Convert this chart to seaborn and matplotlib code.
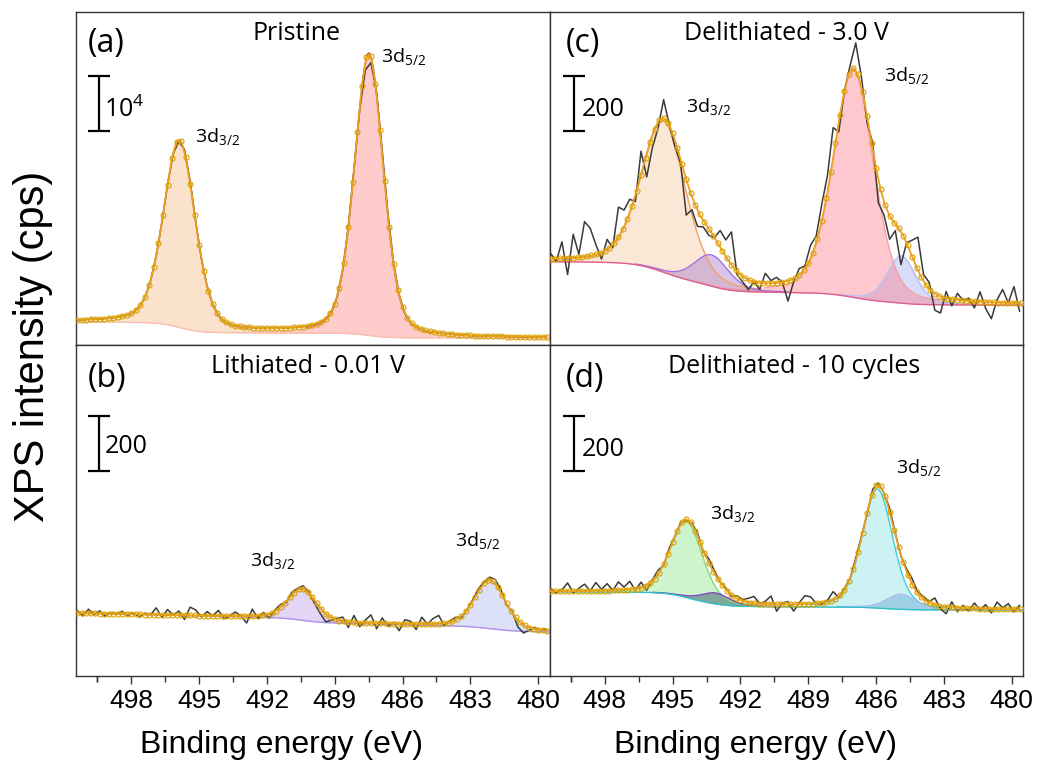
import numpy as np
import seaborn as sns
import matplotlib.pyplot as plt

# ---- data ---------------------------------------------------------------
# raw spectra: deviation of the measured counts from the fit envelope (cps),
# one value per 0.25 eV from 500.4 eV down to 479.65 eV
resid_a = [0, 0, 50, 0, -50, 0, 0, 50, 0, 0, -50, 0, 0, 50, 0, 0, -100,
           -200, -400, 300, 500, 200, 0, 0, 50, 0, -50, 0, 0, 0, 50, 0, 0,
           -50, 0, 0, 0, 50, 0, 0, 0, -50, 0, 0, 0, 0, 0, 100, 200, 300,
           -500, -1500, -1200, 400, 800, 600, 300, 100, 0, 0, 50, 0, -50, 0,
           0, 0, 50, 0, 0, 0, -50, 0, 0, 0, 0, 50, 0, 0, 0, -50, 0, 0, 0, 0]
resid_b = [10, -10, 15, -5, 10, -10, 5, 0, 10, -5, 5, -10, 5, 0,
           25, -10, 20, 0, 15, -15,
           30, 20, -5, 15, 0, 20, -10, 0, 15, 0, -25, 25, -10,
           10, -15, 5, 10, -5, 10, 5, 12,
           5, -10, -20, -30, -10, 5,
           15, -20, 25, -15, 10, 30, -20, 20, -10, 5, -25, 15, 10, -20, 25,
           0, 20, 30, -10,
           5, 10, -5, 0, 5, 10, 5, 10, 15, 10,
           -5, 5, -25, -30, -10, 5, 0, 5]
resid_c = [20, -10, 60, -60, 85, 10, 127, 100, 36, -24,
           36, -12, 109, 60, 48, -24, 85, -85, -48, -24,
           67, 0, -24, -12, -130, -48, -60, -24, -24, 0,
           60, 60, 120, -12, -20, -36, 0, -24, 36, 10,
           20, 0, -73, -12, 24, 10, 48, 24, 60, 60,
           109, -36, 0, 20, 97, 36, -24, 24, -85, -48,
           -85, -24, -120, 0, 60, 120, 24, 24, -60, -60,
           24, -24, 24, 0, 10, -24, 36, -24, -60, 10,
           48, 0, 60, -30]
resid_d = [10, -5, 5, 30, -5, 10, 25, 0, 30, 5, 25, 0, 30, 10, 30, -5, 20,
           -18,
           5, 15, -5, 10, 0, 5, -5,
           5, 10, -5, 15, 10, 0, 5, -5, 10,
           5, 15, 25, 0, 10, 30, -25, 5, 10, -25, 5, 30, 25, 0, -5, 5, 30,
           -5, 5, 0, 10, 5, -5, 10, 5, 0, 15, 5, -5, 10, 20, 5, 10,
           5, 25, -10, -25, 20, -15, 10, -10, 20, -5, 15, -15, 25, 5, 20,
           -10, 15]

# fitted components: centre (eV), height above background (cps), FWHM (eV),
# Shirley step (cps)
centers_a = [495.88, 487.49]
heights_a = [34100, 51300]
fwhm_a = [1.64, 1.50]
steps_a = [2000, 900]
base_a, slope_a = 1270, 0.0

centers_b = [490.45, 482.13]
heights_b = [114, 177]
fwhm_b = [1.5, 1.6]
steps_b = [16, 15]
base_b, slope_b = 160, 1.8

centers_c = [495.41, 493.28, 487.00, 484.88]
heights_c = [550, 114, 825, 172]
fwhm_c = [2.3, 1.8, 2.1, 1.5]
steps_c = [75, 38, 35, 10]
base_c, slope_c = 145, 0.0

centers_d = [494.39, 493.10, 485.94, 484.90]
heights_d = [277, 40, 433, 55]
fwhm_d = [1.67, 1.5, 1.6, 1.5]
steps_d = [40, 15, 8, 3]
base_d, slope_d = 240, 0.0

eta = 0.3
titles = ['Pristine', 'Delithiated - 3.0 V', 'Lithiated - 0.01 V',
          'Delithiated - 10 cycles']
tags = ['(a)', '(c)', '(b)', '(d)']
scale_vals = [1e4, 200, 200, 200]
scale_txt = ['10$^\\mathregular{4}$', '200', '200', '200']
ticks = [498, 495, 492, 489, 486, 483, 480]
tick_labels = ['498', '495', '492', '489', '486', '483', '480']

# ---- styling --------------------------------------------------------------
fills_a = ['#f5c090', '#ff8f8f']
lines_a = ['#f0a868', '#d04040']
fills_b = ['#b898e8', '#a8b4f0']
lines_b = ['#b090e0', '#b8c0f0']
fills_c = ['#f6c49a', '#a070d0', '#8f9ff0', '#ff7080']
lines_c = ['#f4a060', '#a070e0', '#b8c0f0', '#f8a0a8']
fills_d = ['#90e890', '#3f6a70', '#90e4e8', '#70b0d8']
lines_d = ['#80d880', '#8040c0', '#40d0d8', '#b0b8f0']

sns.set_theme(style='white')
plt.rcParams['font.family'] = ['Open Sans', 'DejaVu Sans']
plt.rcParams['text.color'] = 'black'
plt.rcParams['xtick.color'] = 'black'
plt.rcParams['mathtext.fontset'] = 'custom'
plt.rcParams['mathtext.rm'] = 'Open Sans'
plt.rcParams['mathtext.it'] = 'Open Sans:italic'
plt.rcParams['mathtext.bf'] = 'Open Sans:bold'

e_raw = np.linspace(500.4, 479.65, len(resid_a))
e_env = np.linspace(500.4, 479.6, 105)
e_fine = np.linspace(500.45, 479.5, 2096)


def pvoigt(e, c, h, w):
    x = (e - c) / (w / 2)
    return h * ((1 - eta) * np.exp(-np.log(2) * x ** 2) + eta / (1 + x ** 2))


def model(centers, heights, fwhms, steps, base, slope):
    comps = [pvoigt(e_fine, c, h, w) for c, h, w in zip(centers, heights, fwhms)]
    bg = base + slope * (e_fine - e_fine.min())
    for comp, st in zip(comps, steps):
        cum = np.cumsum(comp[::-1])[::-1]
        bg = bg + st * cum / cum[0]
    env = bg + np.sum(comps, axis=0)
    return comps, bg, env


def interp(e, env):
    return np.interp(e, e_fine[::-1], env[::-1])


fig = plt.figure(figsize=(10.38, 7.69), dpi=100)
L, M, R = 76 / 1038, 549.5 / 1038, 1023 / 1038
T, C, B = 1 - 12 / 769, 1 - 345 / 769, 1 - 676 / 769
ax_a = fig.add_axes([L, C, M - L, T - C])
ax_c = fig.add_axes([M, C, R - M, T - C])
ax_b = fig.add_axes([L, B, M - L, C - B])
ax_d = fig.add_axes([M, B, R - M, C - B])

# order of drawing in (c): blue shoulder before the red 3d5/2 peak
order_c = [0, 1, 3, 2]
panels = [
    (ax_a, (centers_a, heights_a, fwhm_a, steps_a, base_a, slope_a), resid_a,
     fills_a, lines_a, '#f8c0b0', 60500, [0.45, 0.45], [0, 1]),
    (ax_c, (centers_c, heights_c, fwhm_c, steps_c, base_c, slope_c), resid_c,
     fills_c, lines_c, '#e0608c', 1211, [0.4, 0.4, 0.35, 0.38], order_c),
    (ax_b, (centers_b, heights_b, fwhm_b, steps_b, base_b, slope_b), resid_b,
     fills_b, lines_b, '#b090e8', 1204, [0.4, 0.4], [0, 1]),
    (ax_d, (centers_d, heights_d, fwhm_d, steps_d, base_d, slope_d), resid_d,
     fills_d, lines_d, '#30c0c8', 1204, [0.45, 0.55, 0.45, 0.5], [0, 1, 2, 3]),
]

peak_pos = [[(495.18, 0.625, '3/2'), (486.95, 0.865, '5/2')],
            [(494.43, 0.715, '3/2'), (485.67, 0.81, '5/2')],
            [(492.75, 0.35, '3/2'), (483.68, 0.41, '5/2')],
            [(493.33, 0.49, '3/2'), (485.1, 0.63, '5/2')]]
title_x = [0.466, 0.5, 0.49, 0.517]
tag_x = [0.025, 0.034, 0.025, 0.034]
bar_x = [499.45, 499.35, 499.45, 499.35]
lab_x = [499.2, 499.03, 499.2, 499.03]

for k, (ax, pars, resid, fills, lines, bgc, ytop, alphas, order) in enumerate(panels):
    comps, bg, env = model(*pars)
    # colours in the style lists follow the drawing order
    for j, idx in enumerate(order):
        comp = comps[idx]
        ax.fill_between(e_fine, bg, bg + comp, color=fills[j], alpha=alphas[j],
                        lw=0, zorder=1)
        # outline only where the component rises above the background
        edge = np.where(comp > 0.02 * comp.max(), bg + comp, np.nan)
        ax.plot(e_fine, edge, color=lines[j], lw=1.0, zorder=2)
    ax.plot(e_fine, bg, color=bgc, lw=1.0, zorder=2)

    raw = interp(e_raw, env) + np.array(resid)
    sns.lineplot(x=e_raw, y=raw, ax=ax, color='#3a3a3a', lw=1.1,
                 sort=False, estimator=None, zorder=3)
    sns.lineplot(x=e_env, y=interp(e_env, env), ax=ax, color='#f0a020', lw=1.3,
                 marker='o', ms=3.6, mfc='none', mec='#d8a200', mew=0.8,
                 sort=False, estimator=None, zorder=4)

    ax.set_xlim(500.45, 479.5)
    ax.set_ylim(0, ytop)
    ax.set_xlabel('')
    ax.set_ylabel('')
    ax.set_yticks([])
    for sp in ax.spines.values():
        sp.set_color('#333333')
        sp.set_linewidth(1.0)

    # scale bar
    row_top = 0.808 if k < 2 else 0.786
    row_lab = [0.706, 0.706, 0.692, 0.683][k]
    sv = scale_vals[k]
    ax.errorbar(bar_x[k], row_top * ytop - sv / 2, yerr=sv / 2, fmt='none',
                ecolor='black', elinewidth=1.6, capsize=8, capthick=1.6)
    ax.text(lab_x[k], row_lab * ytop, scale_txt[k], fontsize=18, ha='left',
            va='center')

    ax.text(title_x[k], 0.934, titles[k], transform=ax.transAxes, fontsize=18,
            ha='center', va='center')
    ax.text(tag_x[k], 0.905 if k < 2 else 0.9, tags[k], transform=ax.transAxes,
            fontsize=23, ha='left', va='center')
    for x, y, sub in peak_pos[k]:
        ax.text(x, y, '3d$_\\mathregular{' + sub + '}$', fontsize=14,
                transform=ax.get_xaxis_transform(), ha='left', va='center')

    if k >= 2:
        ax.set_xticks(ticks, labels=tick_labels, fontfamily='Liberation Sans',
                      fontsize=19)
        ax.set_xticks([t + 1.5 for t in ticks[:-1]] + [499.5], minor=True)
        ax.tick_params(axis='x', which='major', bottom=True, direction='out',
                       length=6, width=1, color='#333333', pad=3)
        ax.tick_params(axis='x', which='minor', bottom=True, direction='out',
                       length=4, width=1, color='#333333')
    else:
        ax.set_xticks([])

fig.text(282 / 1038, 1 - 745 / 769, 'Binding energy (eV)', fontsize=23,
         fontfamily='Liberation Sans', ha='center', va='center')
fig.text(756 / 1038, 1 - 745 / 769, 'Binding energy (eV)', fontsize=23,
         fontfamily='Liberation Sans', ha='center', va='center')
fig.text(33 / 1038, 1 - 346 / 769, 'XPS intensity (cps)', fontsize=30,
         fontfamily='Liberation Sans', rotation=90, ha='center', va='center')

fig.savefig('out.png', dpi=100)
